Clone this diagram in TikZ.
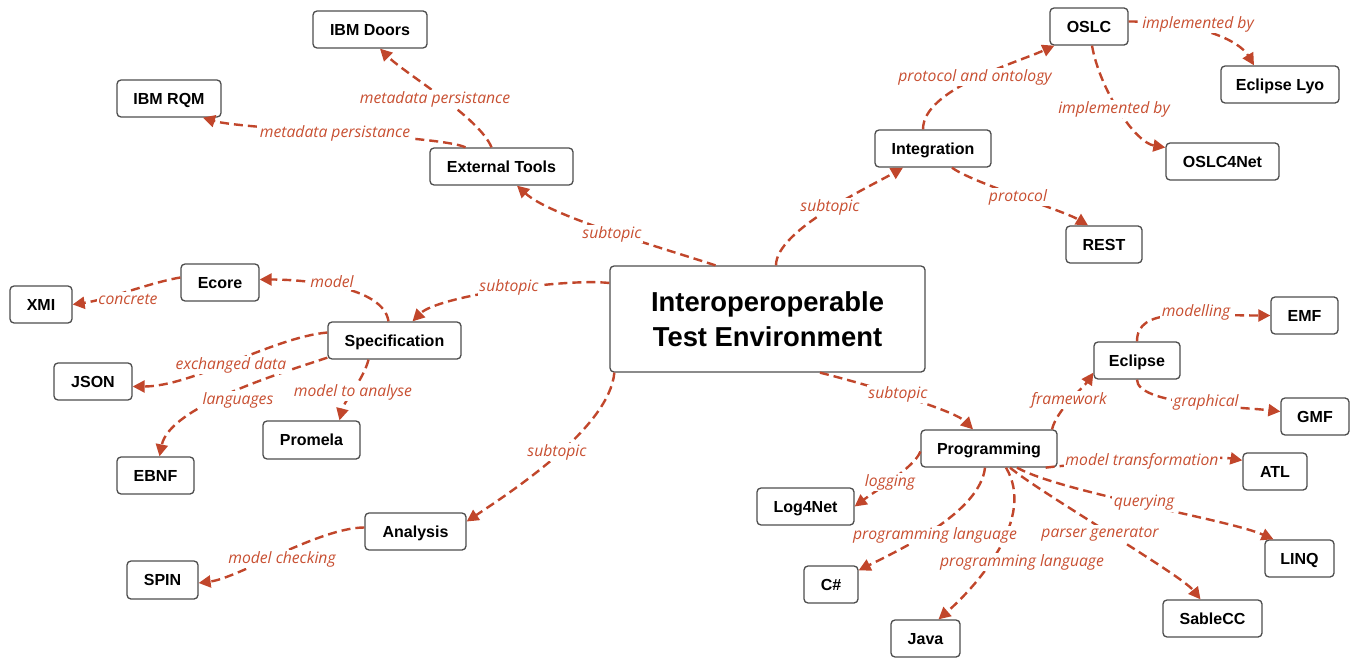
\documentclass[tikz,border=0pt]{standalone}
\usepackage{fontspec}
\setmainfont{Liberation Sans}
\newfontfamily\lblfont{Open Sans}
\usetikzlibrary{arrows.meta}
\definecolor{edgecol}{HTML}{C1462B}
\definecolor{lblcol}{HTML}{C84F31}
\definecolor{boxgray}{HTML}{4D4D4D}
\tikzset{
  basebox/.style={draw=boxgray, line width=1.3pt, rounded corners=4pt, fill=white,
    inner sep=0pt, align=center},
  box/.style={basebox, font=\fontsize{16}{19}\selectfont\bfseries, minimum height=37pt,
    text height=11.5pt, text depth=0pt},
  conn/.style={draw=edgecol, line width=2.4pt, dash pattern=on 9pt off 5pt,
    -{Triangle[length=12pt,width=12pt]}},
  lbl/.style={fill=white, text=lblcol, inner sep=1.5pt,
    font=\lblfont\itshape\fontsize{15.7}{17}\selectfont}
}
\begin{document}
\begin{tikzpicture}[x=1pt,y=-1pt]
\useasboundingbox[fill=white] (0,0) rectangle (1352,658);
% nodes
\node[basebox, minimum width=315pt, minimum height=106pt, font=\fontsize{27.4}{35}\selectfont\bfseries] (c) at (767.5,319) {Interoperoperable\\Test Environment};
\node[box, minimum width=114pt] (doors) at (370,29.5) {IBM Doors};
\node[box, minimum width=104pt] (rqm) at (169,98.5) {IBM RQM};
\node[box, minimum width=143pt] (ext) at (501.5,166.5) {External Tools};
\node[box, minimum width=78pt] (oslc) at (1089,26.5) {OSLC};
\node[box, minimum width=118pt] (lyo) at (1280,84.5) {Eclipse Lyo};
\node[box, minimum width=116pt] (integ) at (933,148.5) {Integration};
\node[box, minimum width=113pt] (o4n) at (1222.5,161.5) {OSLC4Net};
\node[box, minimum width=76pt] (rest) at (1104,244.5) {REST};
\node[box, minimum width=78pt] (ecore) at (220,282.5) {Ecore};
\node[box, minimum width=62pt] (xmi) at (41,304.5) {XMI};
\node[box, minimum width=133pt] (spec) at (394.5,340.5) {Specification};
\node[box, minimum width=78pt] (json) at (93,381.5) {JSON};
\node[box, minimum width=97pt, minimum height=38pt] (promela) at (311.5,440) {Promela};
\node[box, minimum width=77pt] (ebnf) at (155.5,475.5) {EBNF};
\node[box, minimum width=101pt] (analysis) at (415.5,531.5) {Analysis};
\node[box, minimum width=71pt, minimum height=38pt] (spin) at (162.5,580) {SPIN};
\node[box, minimum width=86pt] (eclipse) at (1137,360.5) {Eclipse};
\node[box, minimum width=67pt] (emf) at (1304.5,315.5) {EMF};
\node[box, minimum width=68pt] (gmf) at (1315,416.5) {GMF};
\node[box, minimum width=136pt] (prog) at (989,448.5) {Programming};
\node[box, minimum width=64pt] (atl) at (1275,471.5) {ATL};
\node[box, minimum width=97pt] (log) at (805.5,506.5) {Log4Net};
\node[box, minimum width=69pt] (linq) at (1299.5,558.5) {LINQ};
\node[box, minimum width=54pt] (csharp) at (831,584.5) {C\#};
\node[box, minimum width=99pt] (sable) at (1212.5,618.5) {SableCC};
\node[box, minimum width=69pt] (java) at (925.5,638.5) {Java};
% connectors
\draw[conn] ([xshift=-52pt]c.north) .. controls +(-65,-21) and +(33,30) .. ([xshift=15.5pt]ext.south);
\draw[conn] ([xshift=-10pt]ext.north) .. controls +(-12,-30) and +(25,25) .. ([xshift=10pt]doors.south);
\draw[conn] ([xshift=-36pt]ext.north) .. controls +(-25,-12) and +(40,12) .. ([xshift=34pt]rqm.south);
\draw[conn] ([xshift=8.5pt]c.north) .. controls +(0,-35) and +(-35,20) .. ([xshift=-30pt]integ.south);
\draw[conn] ([xshift=-10pt]integ.north) .. controls +(0,-40) and +(-40,18) .. ([xshift=5pt]oslc.south west);
\draw[conn] ([xshift=19pt]integ.south) .. controls +(20,15) and +(-25,-15) .. ([xshift=-16pt]rest.north);
\draw[conn] ([yshift=5pt]oslc.east) .. controls +(70,0) and +(-15,-25) .. ([xshift=-26pt]lyo.north);
\draw[conn] ([xshift=3pt]oslc.south) .. controls +(8,45) and +(-30,-5) .. ([yshift=14pt]o4n.west);
\draw[conn] ([yshift=36pt]c.west) .. controls +(-45,-5) and +(25,-25) .. ([xshift=18pt]spec.north);
\draw[conn] ([xshift=-6pt]spec.north) .. controls +(-5,-35) and +(45,0) .. ([yshift=3pt]ecore.east);
\draw[conn] ([yshift=5pt]ecore.west) .. controls +(-30,5) and +(35,-5) .. (xmi.east);
\draw[conn] ([yshift=8pt]spec.west) .. controls +(-55,5) and +(60,0) .. ([yshift=-5pt]json.east);
\draw[conn] ([yshift=2pt]spec.south west) .. controls +(-45,15) and +(10,-50) .. ([xshift=4pt]ebnf.north);
\draw[conn] ([xshift=-26pt]spec.south) .. controls +(-5,20) and +(5,-20) .. ([xshift=28pt]promela.north);
\draw[conn] ([xshift=5pt]c.south west) .. controls +(-5,55) and +(45,-30) .. ([yshift=10pt]analysis.east);
\draw[conn] ([yshift=4pt]analysis.west) .. controls +(-45,0) and +(40,-5) .. ([yshift=-3pt]spin.east);
\draw[conn] ([xshift=52.5pt]c.south) .. controls +(40,10) and +(-20,-20) .. ([xshift=-16pt]prog.north);
\draw[conn] ([xshift=63pt]prog.north) .. controls +(5,-20) and +(-10,15) .. ([yshift=7pt]eclipse.south west);
\draw[conn] (eclipse.north) .. controls +(0,-35) and +(-80,0) .. (emf.west);
\draw[conn] (eclipse.south) .. controls +(0,25) and +(-45,-5) .. ([yshift=5pt]gmf.west);
\draw[conn] ([xshift=-12pt]prog.south east) .. controls +(40,-5) and +(-30,-5) .. ([yshift=-8pt]atl.north west);
\draw[conn] ([yshift=-3pt]prog.west) .. controls +(-5,15) and +(20,-15) .. (log.east);
\draw[conn] ([xshift=28pt]prog.south) .. controls +(45,25) and +(-45,-20) .. ([xshift=-26pt]linq.north);
\draw[conn] ([xshift=-4pt]prog.south) .. controls +(-5,45) and +(40,-20) .. ([yshift=-5pt]csharp.north east);
\draw[conn] ([xshift=17pt]prog.south) .. controls +(30,50) and +(40,-35) .. ([xshift=13pt]java.north);
\draw[conn] ([xshift=21pt]prog.south) .. controls +(30,25) and +(-20,-25) .. ([xshift=-12pt]sable.north);
% labels
\node[lbl] (l1) at (612,234) {subtopic};
\node[lbl] (l2) at (435,99) {metadata persistance};
\node[lbl] (l3) at (335,133) {metadata persistance};
\node[lbl] (l4) at (830,207) {subtopic};
\node[lbl] (l5) at (975,77) {protocol and ontology};
\node[lbl] (l6) at (1018,197) {protocol};
\node[lbl] (l7) at (1198,24) {implemented by};
\node[lbl] (l8) at (1114,109) {implemented by};
\node[lbl] (l9) at (509,287) {subtopic};
\node[lbl] (l10) at (332,282) {model};
\node[lbl] (l11) at (128,299) {concrete};
\node[lbl] (l12) at (231,365) {exchanged data};
\node[lbl] (l13) at (238,400) {languages};
\node[lbl] (l14) at (353,392) {model to analyse};
\node[lbl] (l15) at (557,452) {subtopic};
\node[lbl] (l16) at (282,559) {model checking};
\node[lbl] (l17) at (898,394) {subtopic};
\node[lbl] (l18) at (1069,400) {framework};
\node[lbl] (l19) at (1196,312) {modelling};
\node[lbl] (l20) at (1206,402) {graphical};
\node[lbl] (l21) at (1142,461) {model transformation};
\node[lbl] (l22) at (890,482) {logging};
\node[lbl] (l23) at (1144,503) {querying};
\node[lbl] (l24) at (935,535) {programming language};
\node[lbl] (l25) at (1022,562) {programming language};
\node[lbl] (l26) at (1100,534) {parser generator};
\end{tikzpicture}
\end{document}
